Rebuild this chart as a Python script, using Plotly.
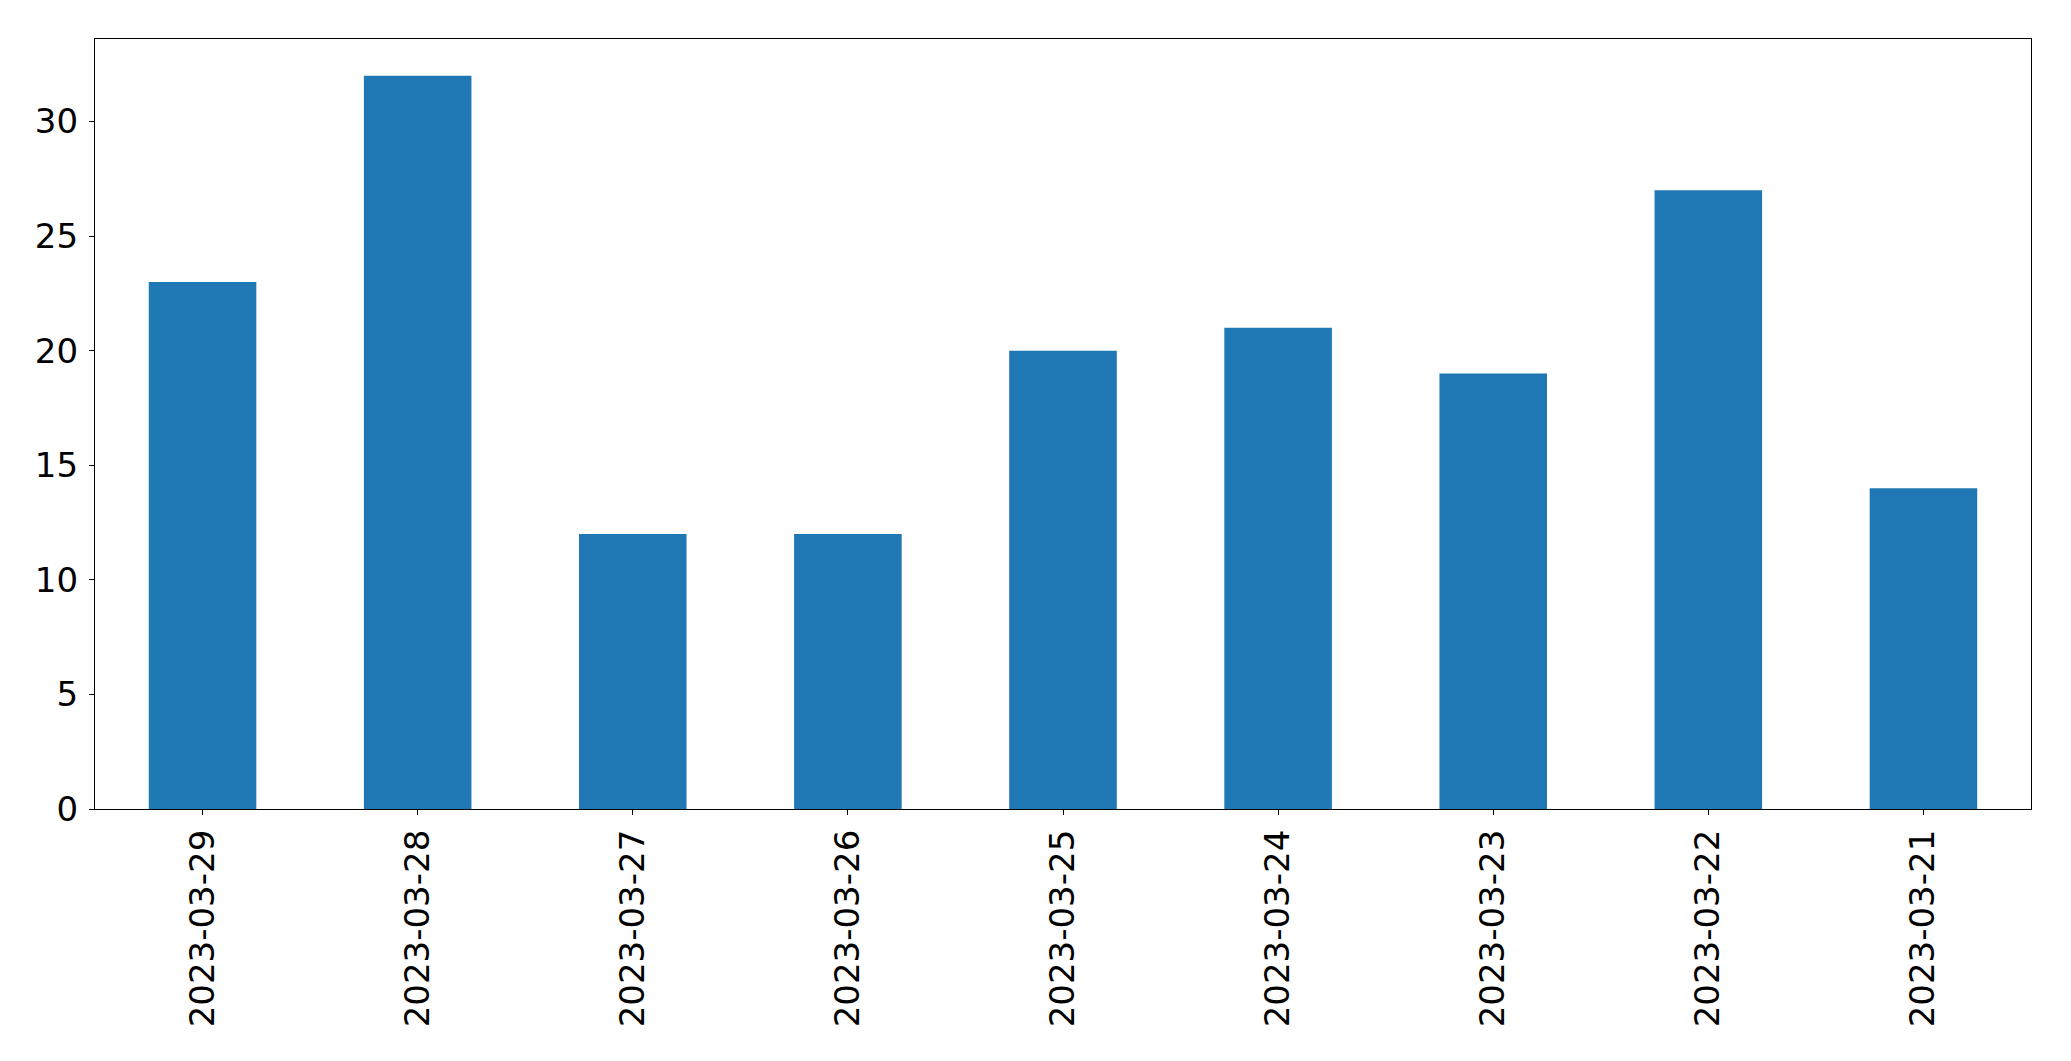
import plotly.graph_objects as go

dates = ["2023-03-29", "2023-03-28", "2023-03-27", "2023-03-26", "2023-03-25",
         "2023-03-24", "2023-03-23", "2023-03-22", "2023-03-21"]
counts = [23, 32, 12, 12, 20, 21, 19, 27, 14]
y_ticks = [0, 5, 10, 15, 20, 25, 30]

fig = go.Figure(go.Bar(x=dates, y=counts, width=0.5, marker=dict(color="#1f77b4", line=dict(width=0))))

axis_common = dict(showline=True, linecolor="black", linewidth=1.3, mirror=True,
                   ticks="outside", ticklen=5, tickwidth=1.3, tickcolor="black",
                   showgrid=False, zeroline=False,
                   tickfont=dict(family="DejaVu Sans", size=34, color="black"))

fig.update_layout(
    width=2071, height=1061,
    margin=dict(l=87, r=48, t=31, b=260),
    plot_bgcolor="white", paper_bgcolor="white",
    showlegend=False,
    bargap=0.5,
    xaxis=dict(type="category", tickangle=-90, range=[-0.5, 8.5], ticklabelstandoff=1, **axis_common),
    yaxis=dict(range=[0, 33.6], tickvals=y_ticks, ticklabelstandoff=4, **axis_common),
)

fig.write_html("out.html")
